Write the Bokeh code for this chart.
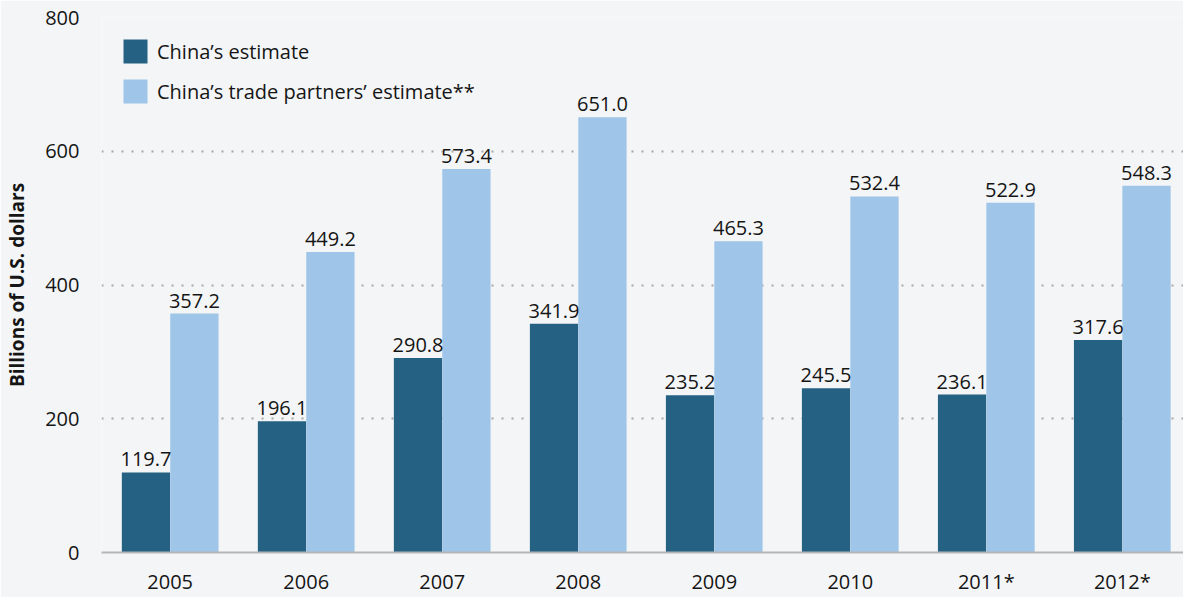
from bokeh.plotting import figure
from bokeh.models import ColumnDataSource, FixedTicker, Range1d
from bokeh.core.properties import value
from bokeh.embed import file_html
from bokeh.resources import INLINE

years = ["2005", "2006", "2007", "2008", "2009", "2010", "2011*", "2012*"]
china_est = [119.7, 196.1, 290.8, 341.9, 235.2, 245.5, 236.1, 317.6]
partners_est = [357.2, 449.2, 573.4, 651.0, 465.3, 532.4, 522.9, 548.3]
series_names = ["China\u2019s estimate", "China\u2019s trade partners\u2019 estimate**"]
y_ticks = [0, 200, 400, 600, 800]

DARK = "#246182"
LIGHT = "#9fc5e8"
BG = "#f4f5f7"
FONT = "Open Sans"
TXT = "#151515"

idx = list(range(len(years)))
off = 0.178
bw = 0.355

src1 = ColumnDataSource(dict(x=[i - off for i in idx], y=china_est,
                             t=[f"{v:.1f}" for v in china_est]))
src2 = ColumnDataSource(dict(x=[i + off for i in idx], y=partners_est,
                             t=[f"{v:.1f}" for v in partners_est]))

p = figure(width=1183, height=597, output_backend="svg", toolbar_location=None,
           x_range=Range1d(-0.505, 7.45), y_range=Range1d(0, 800),
           min_border_left=101, min_border_right=0, min_border_top=17, min_border_bottom=36)
p.background_fill_color = BG
p.border_fill_color = BG
p.outline_line_color = None

p.vbar(x="x", top="y", width=bw, source=src1, color=DARK, line_color=None,
       legend_label=series_names[0])
p.vbar(x="x", top="y", width=bw, source=src2, color=LIGHT, line_color=None,
       legend_label=series_names[1])

for s in (src1, src2):
    p.text(x="x", y="y", text="t", source=s, text_align="center", text_baseline="bottom",
           y_offset=-6, text_font=value(FONT), text_font_size="20px", text_color=TXT)

# axes
p.xaxis.ticker = FixedTicker(ticks=idx)
p.xaxis.major_label_overrides = {i: y for i, y in enumerate(years)}
p.xaxis.major_tick_line_color = None
p.xaxis.minor_tick_line_color = None
p.xaxis.axis_line_color = "#b5b5b5"
p.xaxis.axis_line_width = 2
p.xaxis.major_label_text_font = FONT
p.xaxis.major_label_text_font_size = "20px"
p.xaxis.major_label_text_color = TXT
p.xaxis.major_label_standoff = 9

p.yaxis.ticker = FixedTicker(ticks=y_ticks)
p.yaxis.axis_line_color = None
p.yaxis.major_tick_line_color = None
p.yaxis.minor_tick_line_color = None
p.yaxis.major_label_text_font = FONT
p.yaxis.major_label_text_font_size = "20px"
p.yaxis.major_label_text_color = TXT
p.yaxis.major_label_standoff = 16
p.yaxis.axis_label = "Billions of U.S. dollars"
p.yaxis.axis_label_text_font = FONT
p.yaxis.axis_label_text_font_style = "bold"
p.yaxis.axis_label_text_font_size = "19px"
p.yaxis.axis_label_text_color = TXT
p.yaxis.axis_label_standoff = 12

p.xgrid.grid_line_color = None
p.ygrid.ticker = FixedTicker(ticks=y_ticks)
p.ygrid.grid_line_color = "#a8a8a8"
p.ygrid.grid_line_width = 2
p.ygrid.grid_line_dash = "2 8"

lg = p.legend[0]
lg.location = "top_left"
lg.margin = 19
lg.padding = 4
lg.spacing = 10
lg.glyph_width = 30
lg.glyph_height = 30
lg.label_height = 30
lg.label_standoff = 7
lg.label_text_font = FONT
lg.label_text_font_size = "20px"
lg.label_text_color = TXT
lg.background_fill_alpha = 0
lg.border_line_color = None

open("out.html", "w").write(file_html(p, INLINE))
